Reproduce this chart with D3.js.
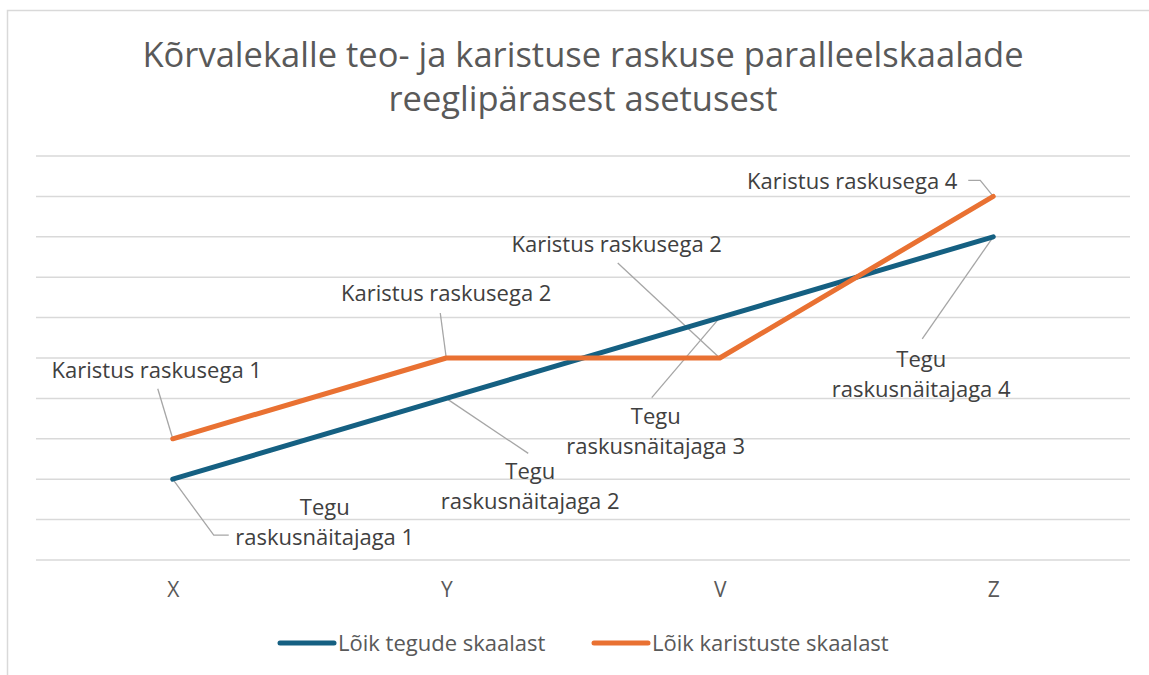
<!DOCTYPE html>
<html>
<head>
<meta charset="utf-8">
<script src="https://cdn.jsdelivr.net/npm/d3@7"></script>
<style>
  body { margin: 0; background: #fff; }
  text { font-family: "Open Sans", "Noto Sans", sans-serif; }
</style>
</head>
<body>
<script>
// chart data
var categories = ["X", "Y", "V", "Z"];
var tegudeSkaala = [2, 4, 6, 8];
var karistusteSkaala = [3, 5, 5, 9];
var yTicks = [0, 1, 2, 3, 4, 5, 6, 7, 8, 9, 10];
var seriesNames = ["Lõik tegude skaalast", "Lõik karistuste skaalast"];
var seriesColors = ["#156082", "#E97132"];
var tegudeLabels = ["raskusnäitajaga 1", "raskusnäitajaga 2", "raskusnäitajaga 3", "raskusnäitajaga 4"];
var karistusLabels = ["Karistus raskusega 1", "Karistus raskusega 2", "Karistus raskusega 2", "Karistus raskusega 4"];

var width = 1149, height = 675;
var plot = { left: 36, right: 1130, top: 156, bottom: 560 };

var svg = d3.select("body").append("svg")
    .attr("width", width)
    .attr("height", height);

// chart frame
svg.append("rect")
    .attr("x", 7.5).attr("y", 10.5)
    .attr("width", 1200).attr("height", 700)
    .attr("fill", "#fff")
    .attr("stroke", "#d9d9d9")
    .attr("stroke-width", 1.5);

// title
var title = svg.append("text")
    .attr("text-anchor", "middle")
    .attr("fill", "#595959")
    .style("font-size", "34.5px");
title.append("tspan").attr("x", 583).attr("y", 67).text("Kõrvalekalle teo- ja karistuse raskuse paralleelskaalade");
title.append("tspan").attr("x", 583).attr("y", 111).text("reeglipärasest asetusest");

var x = d3.scalePoint().domain(categories).range([plot.left, plot.right]).padding(0.5);
var y = d3.scaleLinear().domain([0, 10]).range([plot.bottom, plot.top]);

// gridlines
svg.append("g")
    .selectAll("line")
    .data(yTicks)
    .enter().append("line")
    .attr("x1", plot.left).attr("x2", plot.right)
    .attr("y1", function (d) { return y(d); })
    .attr("y2", function (d) { return y(d); })
    .attr("stroke", "#d9d9d9")
    .attr("stroke-width", 1.5);

// x axis
var xAxis = svg.append("g")
    .attr("transform", "translate(0," + plot.bottom + ")")
    .call(d3.axisBottom(x).tickSize(0).tickPadding(22));
xAxis.select(".domain").remove();
xAxis.selectAll("text")
    .attr("fill", "#595959")
    .style("font-size", "21px");

// leader lines
var leaders = svg.append("g").attr("fill", "none").attr("stroke", "#a6a6a6").attr("stroke-width", 1.3);

function pt(i, arr) { return [x(categories[i]), y(arr[i])]; }

// leader bends, as offsets from the point
var kLead = [[[-15, -50]], [[-6, -45]], [[-102, -95]], [[-13, -16], [-25, -16]]];
var tLead = [[[41, 56], [56, 56]], [[82, 55]], [[-68, 80]], [[-71, 102]]];

[[karistusteSkaala, kLead], [tegudeSkaala, tLead]].forEach(function (s) {
    s[0].forEach(function (v, i) {
        var p = pt(i, s[0]);
        var pts = [p].concat(s[1][i].map(function (o) { return [p[0] + o[0], p[1] + o[1]]; }));
        leaders.append("path").attr("d", d3.line()(pts));
    });
});

// series lines
var line = d3.line()
    .x(function (d, i) { return x(categories[i]); })
    .y(function (d) { return y(d); });

[tegudeSkaala, karistusteSkaala].forEach(function (s, k) {
    svg.append("path")
        .datum(s)
        .attr("fill", "none")
        .attr("stroke", seriesColors[k])
        .attr("stroke-width", 5)
        .attr("stroke-linejoin", "round")
        .attr("stroke-linecap", "round")
        .attr("d", line);
});

// data labels
var labels = svg.append("g")
    .attr("fill", "#404040")
    .attr("text-anchor", "middle")
    .style("font-size", "22px");

var kOff = [[-16, -61], [0, -57], [-103, -106], [-141, -7]];
karistusteSkaala.forEach(function (v, i) {
    var p = pt(i, karistusteSkaala);
    labels.append("text")
        .attr("x", p[0] + kOff[i][0])
        .attr("y", p[1] + kOff[i][1])
        .text(karistusLabels[i]);
});

var tOff = [[152, 36], [84, 81], [-64, 106], [-72, 130]];
tegudeSkaala.forEach(function (v, i) {
    var p = pt(i, tegudeSkaala);
    var t = labels.append("text");
    t.append("tspan").attr("x", p[0] + tOff[i][0]).attr("y", p[1] + tOff[i][1]).text("Tegu");
    t.append("tspan").attr("x", p[0] + tOff[i][0]).attr("y", p[1] + tOff[i][1] + 30).text(tegudeLabels[i]);
});

// legend
var legendX = [280, 594];
var legend = svg.append("g");
seriesNames.forEach(function (n, k) {
    legend.append("line")
        .attr("x1", legendX[k]).attr("x2", legendX[k] + 54)
        .attr("y1", 643).attr("y2", 643)
        .attr("stroke", seriesColors[k])
        .attr("stroke-width", 5)
        .attr("stroke-linecap", "round");
    legend.append("text")
        .attr("x", legendX[k] + 58).attr("y", 651)
        .attr("fill", "#595959")
        .style("font-size", "22px")
        .text(n);
});
</script>
</body>
</html>
